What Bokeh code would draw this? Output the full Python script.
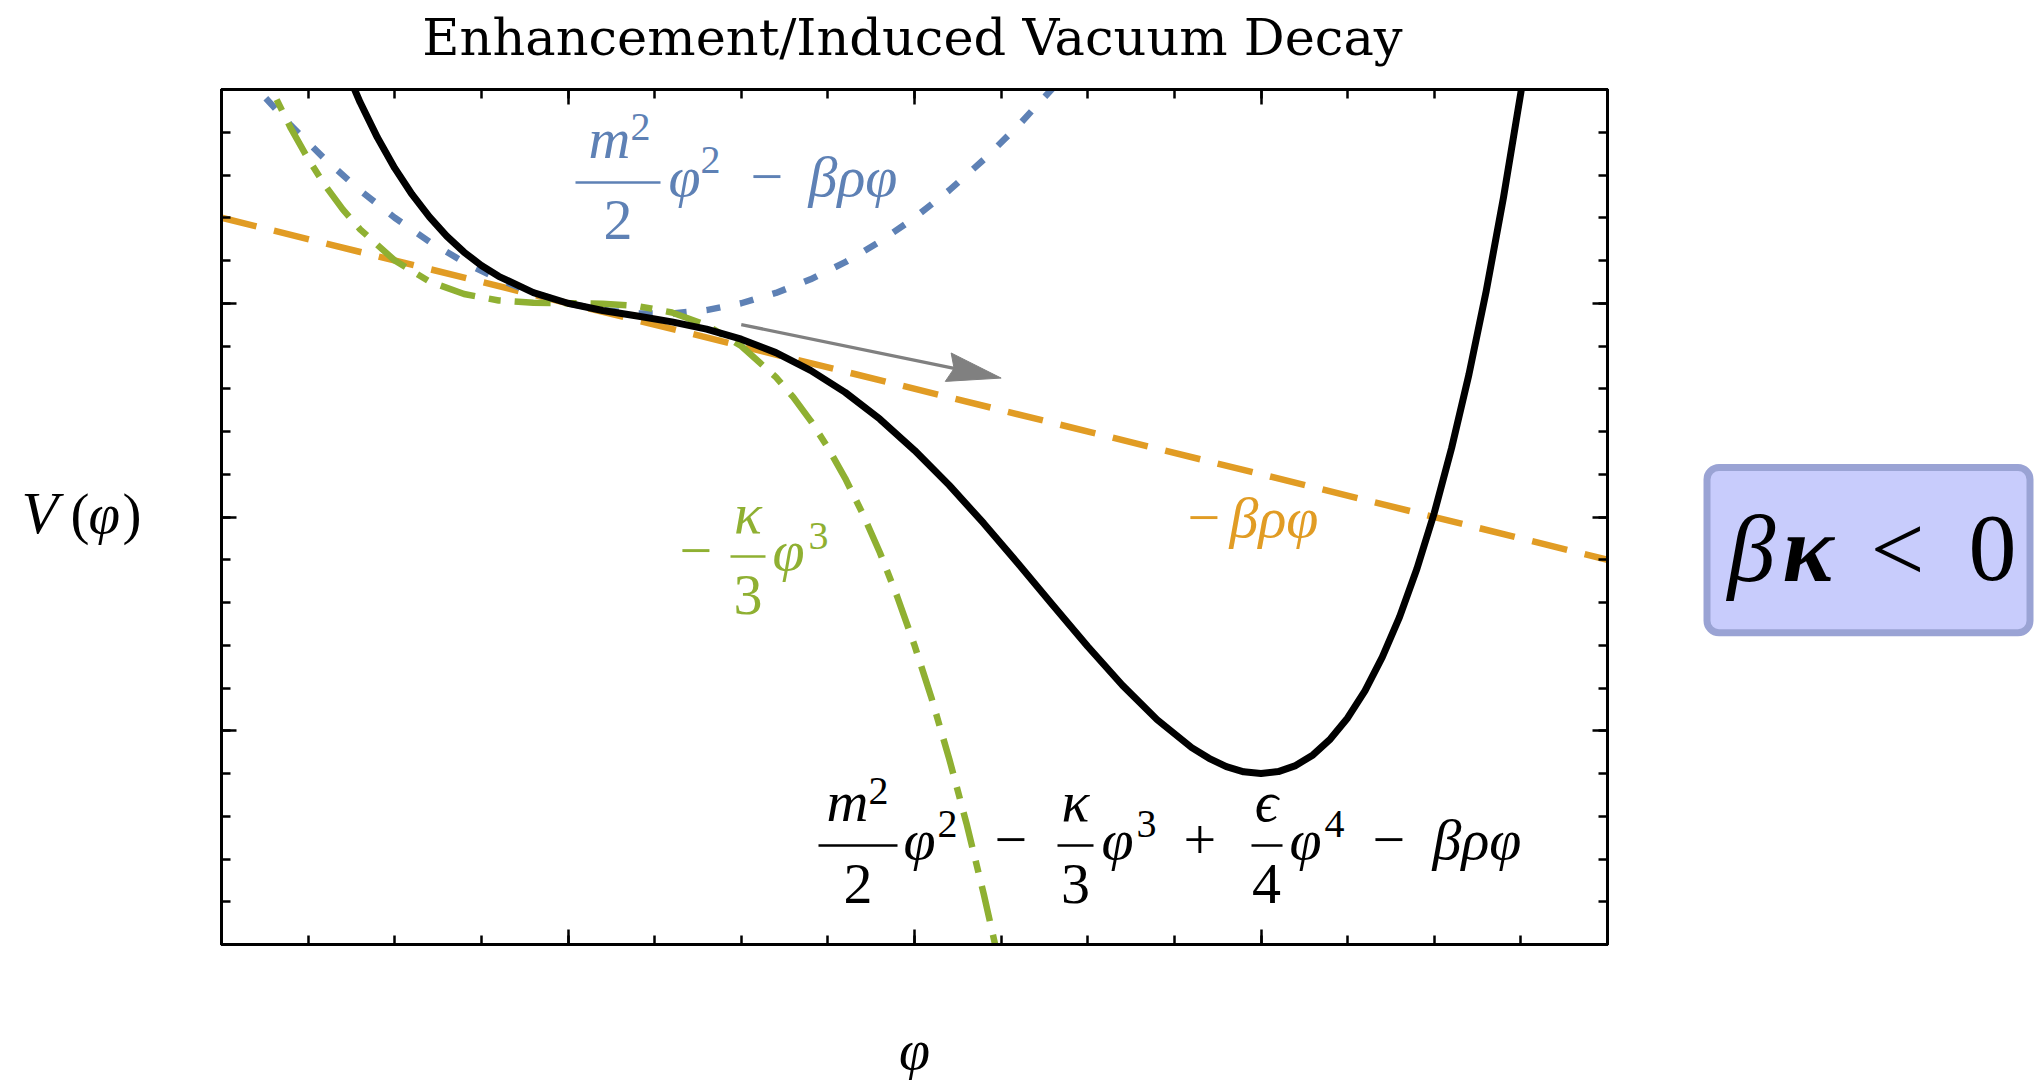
from bokeh.plotting import figure
from bokeh.models import Range1d, FixedTicker, LinearAxis, Label, BoxAnnotation, Arrow
from bokeh.layouts import row, column
from bokeh.embed import file_html
from bokeh.resources import INLINE

# ---------------- data ----------------
x_major = [-1.0, 0.0, 1.0, 2.0, 3.0]
x_minor = [-1.0 + 0.25 * i for i in range(17)]
y_major = [-3.0, -2.0, -1.0, 0.0, 1.0]
y_minor = [-3.0 + 0.2 * i for i in range(21)]

# full potential  m^2/2 phi^2 - k/3 phi^3 + e/4 phi^4 - beta rho phi
black_phi = [-0.70, -0.65, -0.60, -0.55, -0.50, -0.45, -0.40, -0.35, -0.30, -0.25,
             -0.20, -0.10, 0.00, 0.10, 0.20, 0.30, 0.40, 0.50, 0.60, 0.70,
             0.80, 0.90, 1.00, 1.10, 1.20, 1.30, 1.40, 1.50, 1.60, 1.70,
             1.80, 1.85, 1.90, 1.95, 2.00, 2.05, 2.10, 2.15, 2.20, 2.25,
             2.30, 2.35, 2.40, 2.45, 2.50, 2.55, 2.60, 2.65, 2.70, 2.75, 2.80]
black_V = [1.344, 1.129, 0.940, 0.775, 0.632, 0.509, 0.404, 0.314, 0.239, 0.177,
           0.126, 0.050, 0.000, -0.034, -0.060, -0.087, -0.121, -0.168, -0.231, -0.314,
           -0.417, -0.542, -0.688, -0.851, -1.030, -1.220, -1.414, -1.606, -1.787, -1.948,
           -2.079, -2.129, -2.168, -2.192, -2.200, -2.191, -2.163, -2.113, -2.039, -1.940,
           -1.813, -1.656, -1.467, -1.242, -0.981, -0.678, -0.334, 0.057, 0.496, 0.986, 1.530]

# m^2/2 phi^2 - beta rho phi
blue_phi = [-1.0, -0.9, -0.8, -0.7, -0.6, -0.5, -0.4, -0.3, -0.2, -0.1, 0.0,
            0.1, 0.2, 0.3, 0.4, 0.5, 0.6, 0.7, 0.8, 0.9, 1.0, 1.1, 1.2, 1.3, 1.4, 1.5]
blue_V = [1.200, 1.008, 0.832, 0.672, 0.528, 0.400, 0.288, 0.192, 0.112, 0.048, 0.000,
          -0.032, -0.048, -0.048, -0.032, 0.000, 0.048, 0.112, 0.192, 0.288, 0.400,
          0.528, 0.672, 0.832, 1.008, 1.200]

# - beta rho phi
orange_phi = [-1.0, 3.0]
orange_V = [0.40, -1.20]

# - k/3 phi^3
green_phi = [-0.90, -0.85, -0.80, -0.75, -0.70, -0.65, -0.60, -0.50, -0.40, -0.30,
             -0.20, -0.10, 0.00, 0.10, 0.20, 0.30, 0.40, 0.50, 0.60, 0.65,
             0.70, 0.75, 0.80, 0.85, 0.90, 0.95, 1.00, 1.05, 1.10, 1.15, 1.20, 1.25]
green_V = [1.166, 0.983, 0.819, 0.675, 0.549, 0.439, 0.346, 0.200, 0.102, 0.043,
           0.013, 0.002, 0.000, -0.002, -0.013, -0.043, -0.102, -0.200, -0.346, -0.439,
           -0.549, -0.675, -0.819, -0.983, -1.166, -1.372, -1.600, -1.852, -2.130, -2.433,
           -2.765, -3.125]

arrow_start = (0.50, -0.10)
arrow_end = (1.25, -0.35)

title_text = "Enhancement/Induced Vacuum Decay"

# ---------------- layout geometry (page pixels) ----------------
W, H = 2037, 1080
FL, FR, FT, FB = 221, 1607, 89, 944          # plot frame in page pixels
X0, X1, Y0, Y1 = -1.0, 3.0, -3.0, 1.0
LEFT_W = 200                                 # left strip (y label)
MAIN_W = 1490                                # main figure width
RIGHT_W = W - LEFT_W - MAIN_W                # right strip (condition box)
TOP_H = 70                                   # title strip (full width)
MAIN_H = 890
BOT_H = H - TOP_H - MAIN_H                   # x label strip (full width)

def px2x(px):
    return X0 + (px - FL) / (FR - FL) * (X1 - X0)

def py2y(py):
    return Y1 - (py - FT) / (FB - FT) * (Y1 - Y0)

def x2px(x):
    return FL + (x - X0) / (X1 - X0) * (FR - FL)

def y2py(y):
    return FT + (Y1 - y) / (Y1 - Y0) * (FB - FT)

BLUE = "#5E81B5"
ORANGE = "#E19C24"
GREEN = "#8FB032"
GRAY = "#808080"

p = figure(width=MAIN_W, height=MAIN_H, x_range=Range1d(X0, X1), y_range=Range1d(Y0, Y1),
           output_backend="svg", toolbar_location=None,
           min_border_left=FL - LEFT_W, min_border_right=LEFT_W + MAIN_W - FR,
           min_border_top=FT - TOP_H, min_border_bottom=TOP_H + MAIN_H - FB)
p.add_layout(LinearAxis(), "above")
p.add_layout(LinearAxis(), "right")
p.xgrid.visible = False
p.ygrid.visible = False
p.outline_line_color = "black"
p.outline_line_width = 3
p.background_fill_color = "white"
p.border_fill_color = "white"

for ax in p.xaxis:
    ax.ticker = FixedTicker(ticks=x_major, minor_ticks=x_minor)
    ax.major_label_overrides = {t: "" for t in x_major}
for ax in p.yaxis:
    ax.ticker = FixedTicker(ticks=y_major, minor_ticks=y_minor)
    ax.major_label_overrides = {t: "" for t in y_major}
for ax in list(p.xaxis) + list(p.yaxis):
    ax.major_tick_in = 15
    ax.major_tick_out = 0
    ax.minor_tick_in = 9
    ax.minor_tick_out = 0
    ax.major_tick_line_width = 2.5
    ax.minor_tick_line_width = 2.5
    ax.major_tick_line_color = "black"
    ax.minor_tick_line_color = "black"
    ax.axis_line_width = 3
    ax.axis_line_color = "black"
    ax.major_label_text_font_size = "1px"
    ax.major_label_text_alpha = 0
    ax.major_label_standoff = 0

# curves
p.line(orange_phi, orange_V, line_color=ORANGE, line_width=6.5, line_dash="36 18")
p.line(blue_phi, blue_V, line_color=BLUE, line_width=6.5, line_dash="14 20")
p.line(green_phi, green_V, line_color=GREEN, line_width=6.5, line_dash="36 14 12 14")
p.line(black_phi, black_V, line_color="black", line_width=7, line_join="round")

# arrow (shaft + notched head computed in pixel space)
sx, sy = x2px(arrow_start[0]), y2py(arrow_start[1])
tx, ty = x2px(arrow_end[0]), y2py(arrow_end[1])
L = ((tx - sx) ** 2 + (ty - sy) ** 2) ** 0.5
ux, uy = (tx - sx) / L, (ty - sy) / L
nx, ny = -uy, ux
head_len, head_half, notch = 54.0, 14.5, 6.0
bx, by = tx - head_len * ux, ty - head_len * uy
mx, my = bx + notch * ux, by + notch * uy
p.add_layout(Arrow(end=None, x_start=arrow_start[0], y_start=arrow_start[1],
                   x_end=px2x(mx), y_end=py2y(my), line_color=GRAY, line_width=3.3))
head_px = [(tx, ty), (bx + head_half * nx, by + head_half * ny), (mx, my),
           (bx - head_half * nx, by - head_half * ny)]
p.patch([px2x(a) for a, b in head_px], [py2y(b) for a, b in head_px],
        fill_color=GRAY, line_color=GRAY, line_width=1)


# ---------------- auxiliary strips (frames fill the whole strip) ----------------
def strip(w, h):
    f = figure(width=w, height=h, x_range=Range1d(0, w), y_range=Range1d(0, h),
               output_backend="svg", toolbar_location=None,
               x_axis_location=None, y_axis_location=None,
               min_border=0, min_border_left=0, min_border_right=0,
               min_border_top=0, min_border_bottom=0)
    f.outline_line_color = None
    f.background_fill_color = "white"
    f.border_fill_color = "white"
    f.grid.visible = False
    return f

top_fig = strip(W, TOP_H)
bot_fig = strip(W, BOT_H)
left_fig = strip(LEFT_W, MAIN_H)
right_fig = strip(RIGHT_W, MAIN_H)

conv = {
    id(p): (px2x, py2y),
    id(top_fig): (lambda gx: gx, lambda gy: TOP_H - gy),
    id(bot_fig): (lambda gx: gx, lambda gy: BOT_H - (gy - TOP_H - MAIN_H)),
    id(left_fig): (lambda gx: gx, lambda gy: MAIN_H - (gy - TOP_H)),
    id(right_fig): (lambda gx: gx - LEFT_W - MAIN_W, lambda gy: MAIN_H - (gy - TOP_H)),
}

MATH_FONT = "Liberation Serif"
# the label box is laid out with its bottom at y; lift it so the glyph
# baseline lands at the wanted pixel row
BASE_LIFT = {"Liberation Serif": 0.32, "DejaVu Serif": 0.35}

def put(fig, text, gx, gy, size, italic=False, color="black", align="left",
        font=MATH_FONT, style=None):
    cx, cy = conv[id(fig)]
    st = style if style else ("italic" if italic else "normal")
    gy_eff = gy - BASE_LIFT[font] * size
    fig.add_layout(Label(x=cx(gx), y=cy(gy_eff), text=text, text_font=font,
                         text_font_size=f"{size}px", text_font_style=st,
                         text_color=color, text_align=align,
                         text_baseline="alphabetic"))

bars = []

def bar(x0, x1, gy, color):
    bars.append((x0, x1, gy, color))

# title
put(top_fig, title_text, 912, 55, 51, align="center", font="DejaVu Serif")

# axis labels
put(left_fig, "V", 21, 530, 60, italic=True)
put(left_fig, "(", 70, 530, 57)
put(left_fig, "φ", 88, 530, 57, italic=True)
put(left_fig, ")", 122, 530, 57)
put(bot_fig, "φ", 914, 1067, 56, italic=True, align="center")

M = 58   # main math size
S = 40   # superscript size

# blue label: m^2/2 phi^2 - beta rho phi
put(p, "m", 588, 157, M, True, BLUE)
put(p, "2", 630, 139, S, False, BLUE)
bar(575, 660, 182, BLUE)
put(p, "2", 617.5, 238, M, False, BLUE, "center")
put(p, "φ", 668, 195, M, True, BLUE)
put(p, "2", 700, 172, S, False, BLUE)
put(p, "−", 750, 195, M, False, BLUE)
put(p, "βρφ", 808, 195, M, True, BLUE)

# black formula
put(p, "m", 826, 820, M, True)
put(p, "2", 868, 803, S)
bar(818, 897, 845, "black")
put(p, "2", 857.5, 902, M, False, "black", "center")
put(p, "φ", 903, 858, M, True)
put(p, "2", 937, 836, S)
put(p, "−", 994, 858, M)
put(p, "κ", 1075, 820, M, True, "black", "center")
bar(1057, 1093, 845, "black")
put(p, "3", 1075, 902, M, False, "black", "center")
put(p, "φ", 1101, 858, M, True)
put(p, "3", 1136, 836, S)
put(p, "+", 1183, 858, M)
put(p, "ϵ", 1266, 820, M, True, "black", "center")
bar(1251, 1282, 845, "black")
put(p, "4", 1266, 902, M, False, "black", "center")
put(p, "φ", 1289, 858, M, True)
put(p, "4", 1324, 836, S)
put(p, "−", 1372, 858, M)
put(p, "βρφ", 1432, 858, M, True)

# green label
put(p, "−", 679, 569, M, False, GREEN)
put(p, "κ", 747.5, 532, M, True, GREEN, "center")
bar(730, 765, 556, GREEN)
put(p, "3", 747.5, 613, M, False, GREEN, "center")
put(p, "φ", 772, 569, M, True, GREEN)
put(p, "3", 808, 548, S, False, GREEN)

# orange label
put(p, "−", 1187, 536, M, False, ORANGE)
put(p, "βρφ", 1229, 536, M, True, ORANGE)

for x0, x1, gy, color in bars:
    p.segment(x0=[px2x(x0)], y0=[py2y(gy)], x1=[px2x(x1)], y1=[py2y(gy)],
              line_color=color, line_width=2.5)

# condition box on the right strip
rcx, rcy = conv[id(right_fig)]
right_fig.add_layout(BoxAnnotation(left=rcx(1706.5), right=rcx(2029.5),
                                   top=rcy(463.5), bottom=rcy(635.5),
                                   fill_color="#C8CCFC", fill_alpha=1.0,
                                   line_color="#9AA3D4", line_width=7, line_alpha=1.0,
                                   border_radius=12))
put(right_fig, "β", 1727, 578, 96, True)
put(right_fig, "κ", 1782, 578, 96, style="bold italic")
put(right_fig, "<", 1870, 578, 96)
put(right_fig, "0", 1968, 578, 96)

layout = column(top_fig, row(left_fig, p, right_fig), bot_fig)
open("out.html", "w").write(file_html(layout, INLINE))
